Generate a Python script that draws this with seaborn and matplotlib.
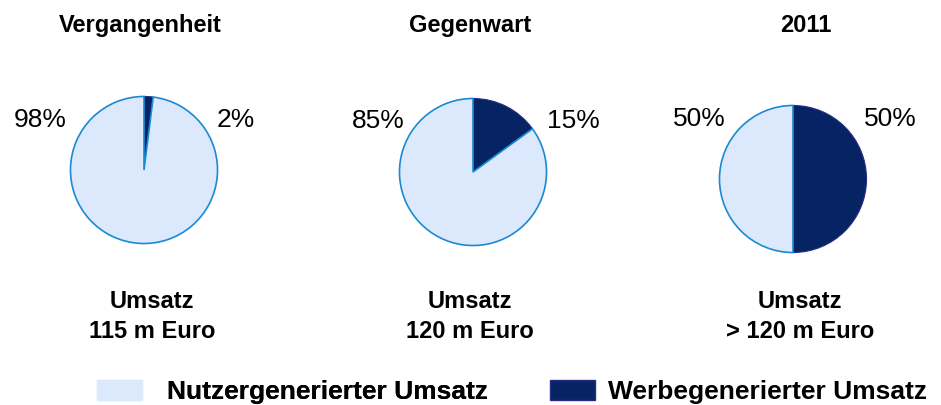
import matplotlib
matplotlib.use("Agg")
import matplotlib.pyplot as plt
from matplotlib.patches import Patch
import seaborn as sns

# Daten
titles = ["Vergangenheit", "Gegenwart", "2011"]
werbe = [2, 15, 50]
nutzer = [98, 85, 50]
umsatz = ["115 m Euro", "120 m Euro", "> 120 m Euro"]
series = ["Nutzergenerierter Umsatz", "Werbegenerierter Umsatz"]

sns.set_theme(style="white")
plt.rcParams["font.family"] = ["Liberation Sans", "DejaVu Sans"]
plt.rcParams["text.color"] = "black"

light = "#dce8fc"
dark = "#062463"
light_edge = "#1b8ad2"
dark_edge = "#2b2b86"

W, H = 941, 405
fig = plt.figure(figsize=(W / 100, H / 100), dpi=100)

# pie centres in pixels (x, y from top), radius
centres = [(144, 170), (473, 172), (793, 179)]
r = 75
title_x = [140, 470, 806]
bottom_x = [152, 470, 800]
lab_left = [40, 378, 699]
lab_right = [236, 573, 890]
lab_y = [127, 128, 126]

for i in range(3):
    cx, cy = centres[i]
    ax = fig.add_axes([(cx - r) / W, (H - cy - r) / H, 2 * r / W, 2 * r / H])
    wedges, _ = ax.pie([werbe[i], nutzer[i]], colors=[dark, light],
                       startangle=90, counterclock=False, radius=1)
    wedges[0].set_edgecolor(dark_edge)
    wedges[0].set_linewidth(0.8)
    wedges[1].set_edgecolor(light_edge)
    wedges[1].set_linewidth(1.2)
    ax.set_xlim(-1.02, 1.02)
    ax.set_ylim(-1.02, 1.02)
    ax.set_aspect("equal")
    ax.axis("off")

    fig.text(title_x[i] / W, 1 - 32 / H, titles[i], ha="center", va="baseline",
             fontsize=17, fontweight="bold")
    fig.text(lab_left[i] / W, 1 - lab_y[i] / H, f"{nutzer[i]}%", ha="center",
             va="baseline", fontsize=19)
    fig.text(lab_right[i] / W, 1 - lab_y[i] / H, f"{werbe[i]}%", ha="center",
             va="baseline", fontsize=19)
    fig.text(bottom_x[i] / W, 1 - 308 / H, "Umsatz", ha="center", va="baseline",
             fontsize=17, fontweight="bold")
    fig.text(bottom_x[i] / W, 1 - 338 / H, umsatz[i], ha="center", va="baseline",
             fontsize=17, fontweight="bold")

# zwei Legenden-Einträge, getrennt platziert
handles = [Patch(facecolor=light, edgecolor=light), Patch(facecolor=dark, edgecolor=dark_edge)]
leg_opts = dict(loc="lower left", frameon=False, borderpad=0, borderaxespad=0,
                handlelength=1.7, handleheight=0.76,
                prop={"size": 19, "weight": "bold"})
leg1 = fig.legend([handles[0]], [series[0]], bbox_to_anchor=(97 / W, 1 / H),
                  handletextpad=0.95, **leg_opts)
fig.add_artist(leg1)
fig.legend([handles[1]], [series[1]], bbox_to_anchor=(550 / W, 1 / H),
           handletextpad=0.5, **leg_opts)

fig.savefig("out.png", dpi=100, facecolor="white")
